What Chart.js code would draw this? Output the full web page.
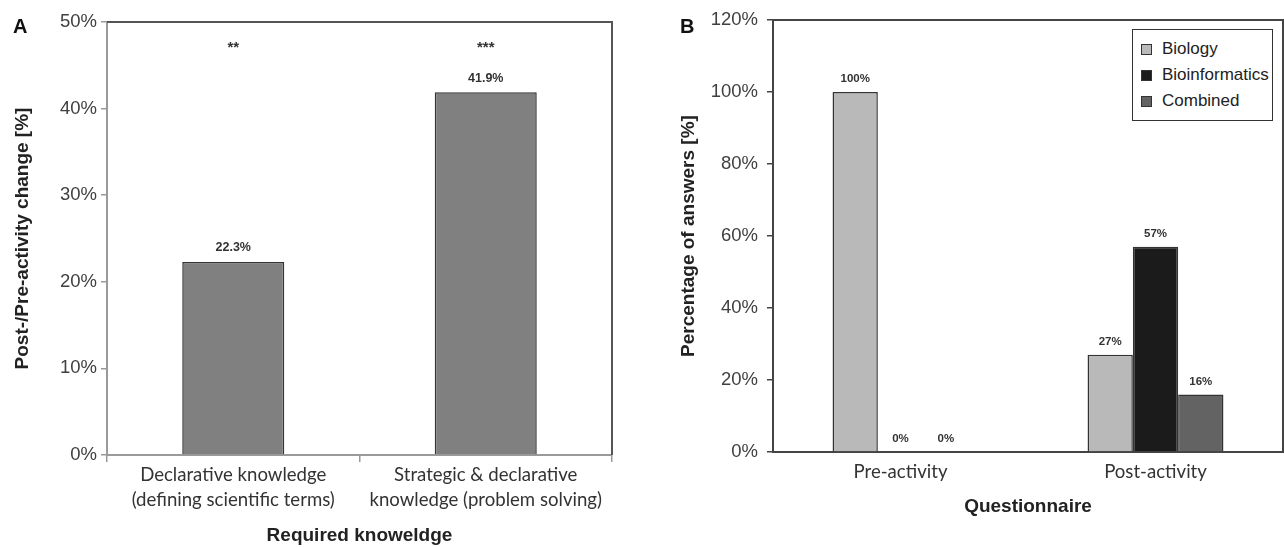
<!DOCTYPE html>
<html>
<head>
<meta charset="utf-8">
<script src="https://cdn.jsdelivr.net/npm/chart.js@4.4.1/dist/chart.umd.min.js"></script>
<style>
  body { margin: 0; background: #fff; width: 1284px; height: 547px; position: relative; overflow: hidden; font-family: "Liberation Sans", Arial, sans-serif; }
  canvas { position: absolute; top: 0; }
  #chartA { left: 0; }
  #chartB { left: 640px; }
  .tag { position: absolute; font-weight: bold; font-size: 20px; line-height: 20px; color: #111; }
  #legend { position: absolute; left: 1132px; top: 29px; width: 141px; height: 92px; box-sizing: border-box; border: 1.5px solid #333; background: #fff; padding: 6px 0 0 8px; }
  #legend div { height: 26px; line-height: 26px; font-size: 17px; color: #222; white-space: nowrap; }
  #legend span { display: inline-block; width: 9px; height: 9px; border: 1px solid #333; margin-right: 10px; vertical-align: -1px; }
</style>
</head>
<body>
<canvas id="chartA" width="640" height="547"></canvas>
<canvas id="chartB" width="644" height="547"></canvas>
<div class="tag" style="left:13px;top:16px">A</div>
<div class="tag" style="left:680px;top:16px">B</div>
<div id="legend"></div>
<script>
// Panel A
const knowledgeLabels = [['Declarative knowledge', '(defining scientific terms)'], ['Strategic & declarative', 'knowledge (problem solving)']];
const changeValues = [22.3, 41.9];
const significance = ['**', '***'];
const changeTicks = [0, 10, 20, 30, 40, 50];

// Panel B
const phaseLabels = ['Pre-activity', 'Post-activity'];
const biologyValues = [100, 27];
const bioinformaticsValues = [0, 57];
const combinedValues = [0, 16];
const answerTicks = [0, 20, 40, 60, 80, 100, 120];

const tickFont = { family: 'Liberation Sans', size: 18.5 };
const catFont = { family: 'Lato', size: 18.6, lineHeight: 1.35 };
const titleFont = { family: 'Liberation Sans', size: 19, weight: 'bold' };

// top + right edge of the plot box
const frame = {
    id: 'frame',
    afterDraw(chart, args, opts) {
        const { ctx, chartArea: a } = chart;
        ctx.save();
        ctx.strokeStyle = opts.color;
        ctx.lineWidth = 2;
        ctx.beginPath();
        ctx.moveTo(a.left, a.top);
        ctx.lineTo(a.right, a.top);
        ctx.lineTo(a.right, a.bottom);
        ctx.stroke();
        ctx.restore();
    }
};

// value labels above bars (+ significance stars)
const valueLabels = {
    id: 'valueLabels',
    afterDatasetsDraw(chart, args, opts) {
        const { ctx } = chart;
        ctx.save();
        ctx.fillStyle = '#333';
        ctx.textAlign = 'center';
        ctx.textBaseline = 'middle';
        ctx.font = opts.font;
        chart.data.datasets.forEach((ds, i) => {
            chart.getDatasetMeta(i).data.forEach((bar, j) => {
                ctx.fillText(opts.format(ds.data[j]), bar.x, bar.y - opts.offset);
            });
        });
        if (opts.stars) {
            ctx.font = 'bold 15px "Liberation Sans"';
            const y = chart.scales.y.getPixelForValue(opts.starLevel);
            chart.getDatasetMeta(0).data.forEach((bar, j) => {
                ctx.fillText(opts.stars[j], bar.x, y);
            });
        }
        ctx.restore();
    }
};

new Chart(document.getElementById('chartA'), {
    type: 'bar',
    data: {
        labels: knowledgeLabels,
        datasets: [{
            data: changeValues,
            backgroundColor: '#808080',
            borderColor: '#333',
            borderWidth: 1.5,
            borderSkipped: 'bottom',
            barPercentage: 0.404,
            categoryPercentage: 1
        }]
    },
    options: {
        responsive: false,
        animation: false,
        layout: { padding: { top: 22, right: 28, left: 0, bottom: 0 } },
        plugins: {
            legend: { display: false },
            tooltip: { enabled: false },
            frame: { color: '#555' },
            valueLabels: {
                font: 'bold 12.5px "Liberation Sans"',
                offset: 14,
                format: v => v.toFixed(1) + '%',
                stars: significance,
                starLevel: 47
            }
        },
        scales: {
            x: {
                afterFit: s => { s.height = 92; },
                ticks: { font: catFont, color: '#333', padding: 0, maxRotation: 0, autoSkip: false },
                grid: { drawOnChartArea: false, offset: true, tickLength: 7, tickColor: '#9a9a9a', lineWidth: 1.5 },
                border: { color: '#9a9a9a', width: 2 },
                title: { display: true, text: 'Required knoweldge', font: titleFont, color: '#222', padding: { top: 0, bottom: 0 } }
            },
            y: {
                min: 0,
                max: 50,
                afterFit: s => { s.width = 107; },
                afterBuildTicks: s => { s.ticks = changeTicks.map(v => ({ value: v })); },
                ticks: { font: tickFont, color: '#404040', padding: 4, callback: v => v + '%' },
                grid: { drawOnChartArea: false, tickLength: 6, tickColor: '#9a9a9a', lineWidth: 1.5 },
                border: { color: '#9a9a9a', width: 2 },
                title: { display: true, text: 'Post-/Pre-activity change [%]', font: titleFont, color: '#222', padding: { top: 11 } }
            }
        }
    },
    plugins: [frame, valueLabels]
});

const groups = [
    { label: 'Biology', data: biologyValues, color: '#b9b9b9' },
    { label: 'Bioinformatics', data: bioinformaticsValues, color: '#1b1b1b' },
    { label: 'Combined', data: combinedValues, color: '#636363' }
];

new Chart(document.getElementById('chartB'), {
    type: 'bar',
    data: {
        labels: phaseLabels,
        datasets: groups.map(g => ({
            label: g.label,
            data: g.data,
            backgroundColor: g.color,
            borderColor: '#333',
            borderWidth: 1.5,
            barPercentage: 1,
            categoryPercentage: 0.533
        }))
    },
    options: {
        responsive: false,
        animation: false,
        layout: { padding: { top: 20, right: 1, left: 0, bottom: 0 } },
        plugins: {
            legend: { display: false },
            tooltip: { enabled: false },
            frame: { color: '#444' },
            valueLabels: {
                font: 'bold 11.5px "Liberation Sans"',
                offset: 13,
                format: v => v + '%'
            }
        },
        scales: {
            x: {
                afterFit: s => { s.height = 95; },
                ticks: { font: catFont, color: '#333', padding: 0, maxRotation: 0, autoSkip: false },
                grid: { drawOnChartArea: false, tickLength: 7, tickColor: 'rgba(0,0,0,0)' },
                border: { color: '#444', width: 2 },
                title: { display: true, text: 'Questionnaire', font: titleFont, color: '#222', padding: { top: 0, bottom: 29 } }
            },
            y: {
                min: 0,
                max: 120,
                afterFit: s => { s.width = 133; },
                afterBuildTicks: s => { s.ticks = answerTicks.map(v => ({ value: v })); },
                ticks: { font: tickFont, color: '#404040', padding: 9, callback: v => v + '%' },
                grid: { drawOnChartArea: false, tickLength: 6, tickColor: '#444', lineWidth: 1.5 },
                border: { color: '#444', width: 2 },
                title: { display: true, text: 'Percentage of answers [%]', font: titleFont, color: '#222', padding: { top: 37 } }
            }
        }
    },
    plugins: [frame, valueLabels]
});

// html legend
document.getElementById('legend').innerHTML = groups
    .map(g => `<div><span style="background:${g.color}"></span>${g.label}</div>`)
    .join('');
</script>
</body>
</html>
